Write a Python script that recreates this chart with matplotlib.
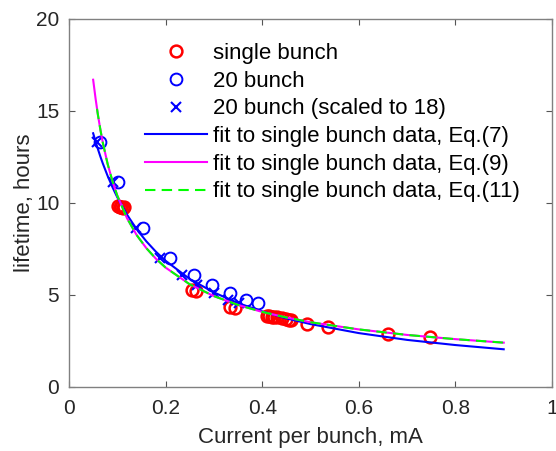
import matplotlib.pyplot as plt

plt.rcParams['font.family'] = ['Liberation Sans', 'DejaVu Sans']

# single bunch measurements
single_x = [0.102, 0.105, 0.108, 0.111, 0.114, 0.255, 0.262, 0.333, 0.343,
            0.41, 0.415, 0.42, 0.425, 0.43, 0.44, 0.45, 0.455, 0.46,
            0.492, 0.537, 0.661, 0.747]
single_y = [9.85, 9.8, 9.8, 9.75, 9.8, 5.25, 5.2, 4.35, 4.3,
            3.88, 3.85, 3.82, 3.8, 3.78, 3.75, 3.7, 3.65, 3.62,
            3.42, 3.28, 2.88, 2.73]

# 20 bunch measurements
b20_x = [0.064, 0.101, 0.153, 0.209, 0.259, 0.296, 0.333, 0.366, 0.391]
b20_y = [13.3, 11.15, 8.62, 7.0, 6.08, 5.52, 5.1, 4.73, 4.57]

# 20 bunch scaled to 18
b18_x = [0.058, 0.091, 0.138, 0.188, 0.233, 0.266, 0.300, 0.329, 0.352]
b18_y = [13.3, 11.15, 8.62, 7.0, 6.08, 5.52, 5.1, 4.73, 4.57]

# fit curves
fit_x = [0.05, 0.055, 0.06, 0.065, 0.07, 0.08, 0.09, 0.10, 0.12, 0.14, 0.16,
         0.18, 0.20, 0.25, 0.30, 0.35, 0.40, 0.45, 0.50, 0.60, 0.70, 0.80, 0.90]
eq7_y = [13.79, 13.34, 12.92, 12.52, 12.15, 11.47, 10.86, 10.31, 9.37, 8.58, 7.92,
         7.35, 6.86, 5.87, 5.14, 4.56, 4.11, 3.73, 3.42, 2.93, 2.56, 2.28, 2.05]
eq9_y = [16.7, 15.68, 14.77, 13.98, 13.28, 12.12, 11.18, 10.40, 9.18, 8.26, 7.55,
         6.97, 6.49, 5.58, 4.94, 4.46, 4.08, 3.78, 3.52, 3.13, 2.83, 2.60, 2.41]
eq11_x = [0.058, 0.06, 0.065, 0.07, 0.08, 0.09, 0.10, 0.12, 0.14, 0.16,
          0.18, 0.20, 0.25, 0.30, 0.35, 0.40, 0.45, 0.50, 0.60, 0.70, 0.80, 0.90]
eq11_y = [15.12, 14.77, 13.98, 13.28, 12.12, 11.18, 10.40, 9.18, 8.26, 7.55,
          6.97, 6.49, 5.58, 4.94, 4.46, 4.08, 3.78, 3.52, 3.13, 2.83, 2.60, 2.41]

fig = plt.figure(figsize=(5.56, 4.51), dpi=100)
ax = fig.add_axes([69 / 556, 64 / 451, 483 / 556, 368 / 451])

ax.plot(single_x, single_y, 'o', color='#ff0000', mfc='none', ms=8.5, mew=1.8,
        ls='none', label='single bunch')
ax.plot(b20_x, b20_y, 'o', color='#0000ff', mfc='none', ms=8.5, mew=1.4,
        ls='none', label='20 bunch')
ax.plot(b18_x, b18_y, 'x', color='#0000ff', ms=7.5, mew=1.5,
        ls='none', label='20 bunch (scaled to 18)')
ax.plot(fit_x, eq7_y, color='#0000ff', lw=1.5,
        label='fit to single bunch data, Eq.(7)')
ax.plot(fit_x, eq9_y, color='#ff00ff', lw=1.5,
        label='fit to single bunch data, Eq.(9)')
ax.plot(eq11_x, eq11_y, color='#00ff00', lw=1.5, ls=(0, (5, 3)),
        label='fit to single bunch data, Eq.(11)')

ax.set_xlim(0, 1)
ax.set_ylim(0, 20)
ax.set_xticks([0, 0.2, 0.4, 0.6, 0.8, 1])
ax.set_xticklabels(['0', '0.2', '0.4', '0.6', '0.8', '1'])
ax.set_yticks([0, 5, 10, 15, 20])
ax.tick_params(direction='in', top=True, right=True, length=4, width=0.8,
               color='#555555', labelsize=15, labelcolor='#262626')
ax.tick_params(axis='x', pad=9)
ax.tick_params(axis='y', pad=7)
for s in ax.spines.values():
    s.set_color('#808080')
    s.set_linewidth(1)

ax.set_xlabel('Current per bunch, mA', fontsize=16, color='#262626', labelpad=6)
ax.set_ylabel('lifetime, hours', fontsize=16, color='#262626', labelpad=1)

ax.legend(loc='upper left', bbox_to_anchor=(145 / 556, 1 - 43 / 451),
          bbox_transform=fig.transFigure, frameon=False, fontsize=16,
          borderpad=0, borderaxespad=0, handlelength=2.8, handletextpad=0.25,
          labelspacing=0.3)

fig.savefig('out.png', dpi=100)
